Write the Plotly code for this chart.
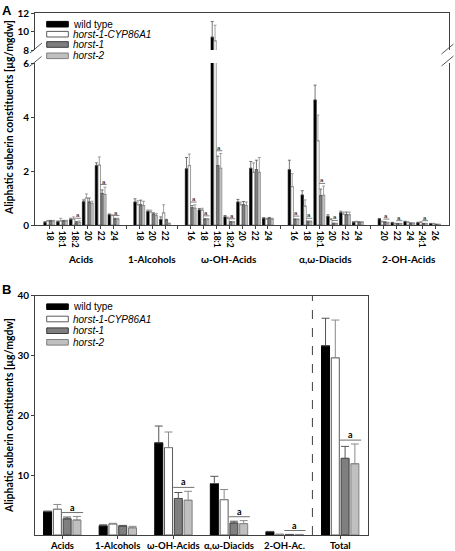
import plotly.graph_objects as go

W, H = 455, 551

# ---------------- Panel A data (µg/mgdw) ----------------
groups_A = ["Acids", "1-Alcohols", "ω-OH-Acids", "α,ω-Diacids", "2-OH-Acids"]
chains_acids = ["18", "18:1", "18:2", "20", "22", "24"]
chains_alcohols = ["18", "20", "22"]
chains_ohacids = ["16", "18", "18:1", "18:2", "20", "22", "24"]
chains_diacids = ["16", "18", "18:1", "20", "22", "24"]
chains_2oh = ["20", "22", "24", "24:1", "26"]

wt_A = [0.10, 0.12, 0.20, 0.86, 2.20, 0.38,
        0.85, 0.50, 0.20,
        2.08, 0.56, 9.40, 0.30, 0.85, 2.10, 0.25,
        2.05, 1.11, 4.63, 0.32, 0.45, 0.10,
        0.22, 0.08, 0.12, 0.08, 0.05]
wt_A_err = [0.02, 0.03, 0.05, 0.07, 0.10, 0.03,
            0.12, 0.05, 0.10,
            0.42, 0.05, 1.70, 0.05, 0.10, 0.25, 0.02,
            0.35, 0.16, 0.55, 0.06, 0.06, 0.02,
            0.02, 0.02, 0.02, 0.02, 0.01]
cyp_A = [0.15, 0.15, 0.22, 1.00, 2.22, 0.35,
         0.75, 0.48, 0.45,
         2.20, 0.55, 9.00, 0.25, 0.75, 1.95, 0.22,
         1.42, 0.70, 3.12, 0.20, 0.40, 0.12,
         0.12, 0.05, 0.10, 0.10, 0.05]
cyp_A_err = [0.02, 0.10, 0.08, 0.15, 0.30, 0.03,
             0.15, 0.07, 0.30,
             0.43, 0.07, 1.70, 0.04, 0.10, 0.35, 0.03,
             0.48, 0.23, 0.95, 0.04, 0.08, 0.02,
             0.02, 0.02, 0.02, 0.02, 0.01]
h1_A = [0.15, 0.15, 0.08, 0.85, 1.17, 0.22,
        0.75, 0.40, 0.18,
        0.64, 0.20, 2.20, 0.10, 0.75, 2.05, 0.25,
        0.20, 0.12, 1.09, 0.05, 0.38, 0.10,
        0.10, 0.05, 0.06, 0.05, 0.02]
h1_A_err = [0.02, 0.02, 0.05, 0.15, 0.13, 0.03,
            0.17, 0.05, 0.03,
            0.08, 0.04, 0.35, 0.03, 0.12, 0.35, 0.03,
            0.03, 0.03, 0.24, 0.02, 0.10, 0.02,
            0.02, 0.01, 0.02, 0.01, 0.01]
h2_A = [0.15, 0.15, 0.10, 0.80, 1.13, 0.22,
        0.72, 0.35, 0.05,
        0.62, 0.20, 2.10, 0.10, 0.72, 1.95, 0.22,
        0.20, 0.12, 1.10, 0.05, 0.38, 0.10,
        0.08, 0.05, 0.06, 0.05, 0.02]
h2_A_err = [0.02, 0.02, 0.05, 0.08, 0.27, 0.03,
            0.16, 0.07, 0.02,
            0.13, 0.04, 0.55, 0.03, 0.13, 0.55, 0.03,
            0.03, 0.03, 0.34, 0.02, 0.10, 0.02,
            0.02, 0.01, 0.02, 0.01, 0.01]
sig_A = [0, 0, 1, 0, 1, 1,
         0, 0, 0,
         1, 1, 1, 1, 0, 0, 0,
         1, 1, 1, 1, 0, 0,
         1, 1, 0, 1, 0]

# ---------------- Panel B data (µg/mgdw) ----------------
cats_B = ["Acids", "1-Alcohols", "ω-OH-Acids", "α,ω-Diacids", "2-OH-Ac.", "Total"]
wt_B = [3.9, 1.55, 15.4, 8.6, 0.55, 31.6]
wt_B_err = [0.1, 0.15, 2.8, 1.2, 0.05, 4.6]
cyp_B = [4.3, 1.85, 14.6, 5.9, 0.10, 29.6]
cyp_B_err = [0.8, 0.1, 2.6, 1.7, 0.02, 6.3]
h1_B = [2.7, 1.5, 6.1, 2.0, 0.08, 12.8]
h1_B_err = [0.3, 0.1, 1.0, 0.3, 0.02, 2.0]
h2_B = [2.5, 1.2, 5.8, 1.9, 0.08, 11.9]
h2_B_err = [0.6, 0.25, 1.5, 0.5, 0.02, 3.3]
sig_B = [1, 0, 1, 1, 1, 1]

genotypes = ["wild type", "horst-1-CYP86A1", "horst-1", "horst-2"]
y_title = "Aliphatic suberin constituents [µg/mgdw]"

# ---------------- styles ----------------
fills = ["#000000", "#ffffff", "#7f7f7f", "#c0c0c0"]
outlines = ["#000000", "#5a5a5a", "#3c3c3c", "#7f7f7f"]
errcols = ["#555555", "#8a8a8a", "#555555", "#8a8a8a"]
AX = "#404040"
BOLD = dict(family="Lato", size=10, color="#000000", weight=700)


def px(p):
    return p / W


def py(p):
    return 1 - p / H


# slot positions for panel A (blank slot between groups)
chain_groups = [chains_acids, chains_alcohols, chains_ohacids, chains_diacids, chains_2oh]
slots_A, tick_vals_A, tick_text_A, group_centers = [], [], [], []
s = 0
for gi, chains in enumerate(chain_groups):
    start = s
    for c in chains:
        slots_A.append(s)
        tick_vals_A.append(s)
        tick_text_A.append(c)
        s += 1
    group_centers.append((start + s - 1) / 2)
    if gi < len(chain_groups) - 1:
        tick_vals_A.append(s)
        tick_text_A.append("")
        s += 1

fig = go.Figure()

# ---------------- Panel A bars ----------------
pitchA, widthA = 0.22, 0.19
offsA = [-2 * pitchA + (pitchA - widthA) / 2 + k * pitchA for k in range(4)]
vals_A = [wt_A, cyp_A, h1_A, h2_A]
errs_A = [wt_A_err, cyp_A_err, h1_A_err, h2_A_err]
for xa, ya in (("x", "y"), ("x2", "y2")):
    for k in range(4):
        fig.add_trace(go.Bar(
            x=slots_A, y=vals_A[k], width=widthA, offset=offsA[k],
            name=genotypes[k], showlegend=False,
            marker=dict(color=fills[k], line=dict(color=outlines[k], width=0.6)),
            error_y=dict(type="data", symmetric=False, array=errs_A[k],
                         arrayminus=[0] * len(slots_A), color=errcols[k],
                         thickness=0.8, width=1.5),
            xaxis=xa, yaxis=ya))

# ---------------- Panel B bars ----------------
pitchB, widthB = 0.176, 0.144
offsB = [-2 * pitchB + (pitchB - widthB) / 2 + k * pitchB for k in range(4)]
vals_B = [wt_B, cyp_B, h1_B, h2_B]
errs_B = [wt_B_err, cyp_B_err, h1_B_err, h2_B_err]
for k in range(4):
    fig.add_trace(go.Bar(
        x=cats_B, y=vals_B[k], width=widthB, offset=offsB[k],
        name=genotypes[k], showlegend=False,
        marker=dict(color=fills[k], line=dict(color=outlines[k], width=1)),
        error_y=dict(type="data", symmetric=False, array=errs_B[k],
                     arrayminus=[0] * len(cats_B), color=errcols[k],
                     thickness=1, width=4),
        xaxis="x3", yaxis="y3"))

shapes, annotations = [], []

# significance marks panel A
for i, sl in enumerate(slots_A):
    if sig_A[i]:
        top = max(h1_A[i] + h1_A_err[i], h2_A[i] + h2_A_err[i]) + 0.1
        x0 = sl + offsA[2] - 0.03
        x1 = sl + offsA[3] + widthA + 0.03
        shapes.append(dict(type="line", xref="x", yref="y", x0=x0, x1=x1, y0=top, y1=top,
                           line=dict(color="#606060", width=0.8)))
        annotations.append(dict(xref="x", yref="y", x=(x0 + x1) / 2, y=top, text="a",
                                showarrow=False, yanchor="bottom", yshift=-2,
                                font=dict(family="Liberation Sans", size=6, color="#000")))

# significance marks panel B
for i, c in enumerate(cats_B):
    if sig_B[i]:
        top = max(h1_B[i] + h1_B_err[i], h2_B[i] + h2_B_err[i]) + 0.65
        x0 = i + offsB[2] - 0.02
        x1 = i + offsB[3] + widthB + 0.04
        shapes.append(dict(type="line", xref="x3", yref="y3", x0=x0, x1=x1, y0=top, y1=top,
                           line=dict(color="#707070", width=1)))
        annotations.append(dict(xref="x3", yref="y3", x=(x0 + x1) / 2, y=top, text="a",
                                showarrow=False, yanchor="bottom", yshift=-2,
                                font=dict(family="Lato", size=9, color="#000", weight=700)))

# category labels panel B (placed just under the axis)
for i, c in enumerate(cats_B):
    annotations.append(dict(xref="x3", yref="paper", x=i, y=py(545), text=c,
                            showarrow=False, yanchor="middle",
                            font=dict(family="Lato", size=9.5, color="#000", weight=700)))

# dashed separator before Total
shapes.append(dict(type="line", xref="x3", yref="y3 domain", x0=4.5, x1=4.5, y0=0, y1=1,
                   line=dict(color=AX, width=1, dash="dash")))

# axis break marks (panel A)
for cx, cy in ((36, 48), (35.5, 61.5), (447.5, 49), (447.5, 61)):
    shapes.append(dict(type="line", xref="paper", yref="paper",
                       x0=px(cx - 6), y0=py(cy + 5), x1=px(cx + 6), y1=py(cy - 5),
                       line=dict(color="#303030", width=0.8)))

# group labels panel A
for g, gc in zip(groups_A, group_centers):
    annotations.append(dict(xref="x", yref="paper", x=gc, y=py(259), text=g,
                            showarrow=False, yanchor="middle", font=BOLD))

# y-axis titles
annotations.append(dict(xref="paper", yref="paper", x=px(9), y=py(118), text=y_title,
                        textangle=-90, showarrow=False, xanchor="center", yanchor="middle",
                        font=dict(family="Lato", size=10.5, color="#000", weight=700)))
annotations.append(dict(xref="paper", yref="paper", x=px(9), y=py(416), text=y_title,
                        textangle=-90, showarrow=False, xanchor="center", yanchor="middle",
                        font=dict(family="Lato", size=10.5, color="#000", weight=700)))

# panel letters
annotations.append(dict(xref="paper", yref="paper", x=px(0), y=py(1), text="<b>A</b>",
                        showarrow=False, xanchor="left", yanchor="top",
                        font=dict(family="Liberation Sans", size=13, color="#000")))
annotations.append(dict(xref="paper", yref="paper", x=px(0), y=py(280), text="<b>B</b>",
                        showarrow=False, xanchor="left", yanchor="top",
                        font=dict(family="Liberation Sans", size=13, color="#000")))

# legends (drawn as swatches + text)
for rows in ((24.2, 34.2, 44.5, 55.8), (306.7, 319, 330.7, 342.3)):
    for k in range(4):
        r = rows[k]
        shapes.append(dict(type="rect", xref="paper", yref="paper",
                           x0=px(46.7), x1=px(68.3), y0=py(r + 2.8), y1=py(r - 2.8),
                           fillcolor=fills[k], line=dict(color=outlines[k], width=1)))
        label = genotypes[k] if k == 0 else "<i>" + genotypes[k] + "</i>"
        annotations.append(dict(xref="paper", yref="paper", x=px(70.5), y=py(r), text=label,
                                showarrow=False, xanchor="left", yanchor="middle",
                                font=dict(family="Liberation Sans", size=10, color="#000")))

axis_common = dict(showgrid=False, zeroline=False, showline=True, linecolor=AX, linewidth=1,
                   tickcolor=AX, ticklen=3, tickwidth=1, automargin=False)

fig.update_layout(
    width=W, height=H, margin=dict(l=0, r=0, t=0, b=0),
    paper_bgcolor="white", plot_bgcolor="white",
    barmode="overlay", showlegend=False,
    xaxis=dict(**axis_common, domain=[px(35), px(448.7)], anchor="y",
               range=[-1.11, 31.06], tickmode="array", tickvals=tick_vals_A,
               ticktext=tick_text_A, ticks="outside", tickangle=90,
               tickfont=dict(family="Lato", size=8.5, color="#000", weight=700)),
    yaxis=dict(**axis_common, domain=[py(225), py(63)], anchor="x", range=[0, 6],
               tickvals=[0, 2, 4, 6], ticks="outside", mirror=True, tickfont=BOLD),
    xaxis2=dict(**axis_common, domain=[px(35), px(448.7)], anchor="y2", matches="x",
                side="top", ticks="", showticklabels=False),
    yaxis2=dict(**axis_common, domain=[py(50), py(13.3)], anchor="x2", range=[8, 12],
                tickvals=[8, 10, 12], ticks="outside", mirror=True, tickfont=BOLD),
    xaxis3=dict(**axis_common, domain=[px(35), px(368)], anchor="y3", type="category",
                categoryorder="array", categoryarray=cats_B,
                range=[-0.49, 5.5], ticks="outside", mirror=True, showticklabels=False),
    yaxis3=dict(**axis_common, domain=[py(535), py(295.5)], anchor="x3", range=[0, 40],
                tickvals=[10, 20, 30, 40], ticks="outside", mirror=True, tickfont=BOLD),
    shapes=shapes, annotations=annotations,
)

# the page's default 8px body margin would push the 455x551 figure out of the window
fig.write_html("out.html", config={"displayModeBar": False},
               post_script="document.body.style.margin='0px';document.body.style.overflow='hidden';")
